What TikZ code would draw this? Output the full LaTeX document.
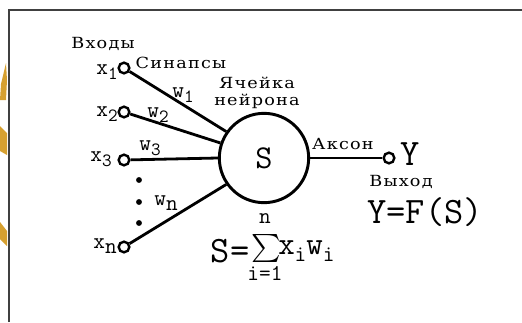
\documentclass[tikz,border=0pt]{standalone}
\usepackage{fontspec}
\setmainfont{DejaVu Serif}
\newfontfamily\labfont[FakeStretch=1.15,LetterSpace=8]{DejaVu Serif}
\usetikzlibrary{positioning}
\definecolor{brushgold}{RGB}{214,160,48}
\newcommand{\lowsub}[1]{\raisebox{-0.55ex}{#1}}

\begin{document}
\begin{tikzpicture}[x=0.75pt,y=-0.75pt,
  lab/.style={font=\labfont\fontsize{11.5}{12.75}\selectfont, inner sep=0pt},
  var/.style={font=\ttfamily\fontsize{17}{18}\selectfont, inner sep=0pt},
  big/.style={font=\ttfamily\fontsize{28}{30}\selectfont, inner sep=0pt},
  pin/.style={circle, draw, line width=1.8pt, fill=white, minimum size=8pt, inner sep=0pt},
  wire/.style={line width=2.1pt}]
  \useasboundingbox (0,0) rectangle (522,322);
  % Frame and brush marks
  \draw[line width=1.5pt, black!75] (9,322) -- (9,10) -- (522,10);
  \fill[brushgold] (0,100) -- (1,84) .. controls (3,74) .. (6,63) -- (7,80) -- (6,100) -- cycle;
  \fill[brushgold] (0,126) -- (7,133) -- (7,155) -- (0,151) -- cycle;
  \fill[brushgold] (0,222) -- (7,231) -- (7,246) -- (0,239) -- cycle;

  % Neuron cell
  \node[circle, draw, line width=2.2pt, minimum size=67pt, inner sep=0pt,
        font=\ttfamily\fontsize{25}{26}\selectfont] (cell) at (264,158) {S};
  \node[lab, align=center] (celltxt) at (257,93) {Ячейка\\нейрона};

  % Inputs
  \foreach \n/\y in {1/68,2/112,3/160,n/247} {
    \node[pin] (x\n) at (124,\y) {};
  }
  \node[lab] (inputs) at (103,44) {Входы};
  \node[var, anchor=east] (lx1) at (118,72) {x\lowsub{\fontsize{14}{15}\selectfont 1}};
  \node[var, anchor=east] (lx2) at (118,114) {x\lowsub{\fontsize{14}{15}\selectfont 2}};
  \node[var, anchor=east] (lx3) at (112,159) {x\lowsub{\fontsize{14}{15}\selectfont 3}};
  \node[var, anchor=east] (lxn) at (117,246) {x\lowsub{\fontsize{17}{18}\selectfont n}};
  \foreach \y in {180,202,223} {
    \fill (139,\y) circle (2.2pt);
  }

  % Synapses
  \draw[wire] (x1) -- (cell.145);
  \draw[wire] (x2) -- (cell.161);
  \draw[wire] (x3) -- (cell.180);
  \draw[wire] (xn) -- (cell.215);
  \node[lab] (syn) at (181,63) {Синапсы};
  \node[var] (w1) at (183,95) {w\lowsub{\fontsize{14}{15}\selectfont 1}};
  \node[var] (w2) at (158,115) {w\lowsub{\fontsize{14}{15}\selectfont 2}};
  \node[var] (w3) at (150,148) {w\lowsub{\fontsize{14}{15}\selectfont 3}};
  \node[var] (wn) at (166,203) {w\lowsub{\fontsize{17}{18}\selectfont n}};

  % Axon and output
  \node[pin] (out) at (389,158) {};
  \draw[wire] (cell) -- (out);
  \node[lab] (axon) at (343,144) {Аксон};
  \node[big] (Y) at (410,154) {Y};
  \node[lab] (outtxt) at (401,182) {Выход};
  \node[big] (Yfun) at (425,212) {Y=F(S)};

  % Weighted sum
  \node[big] (sumS) at (230,251) {S=};
  \node[inner sep=0pt, scale=2.1] (sigma) at (266,248) {$\sum$};
  \node[var] (sumtop) at (265,219) {n};
  \node[var] (sumbot) at (265,273) {i=1};
  \node[inner sep=0pt, font=\ttfamily\fontsize{24}{26}\selectfont, anchor=west] (sumterm) at (278,251)
    {x\lowsub{\fontsize{17}{18}\selectfont i}w\lowsub{\fontsize{17}{18}\selectfont i}};
\end{tikzpicture}
\end{document}
